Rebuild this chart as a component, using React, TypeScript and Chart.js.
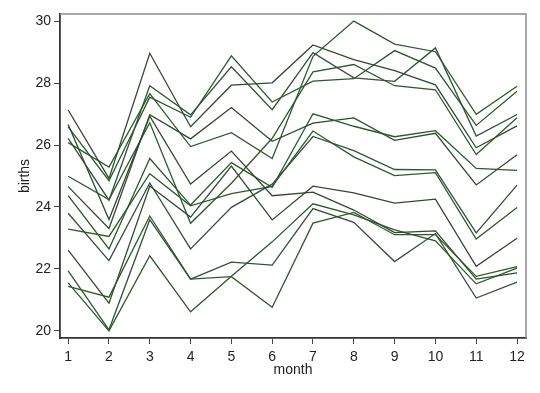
import React, { useEffect, useRef } from "react";
import { Chart, registerables } from "chart.js";

Chart.register(...registerables);

const months = [1, 2, 3, 4, 5, 6, 7, 8, 9, 10, 11, 12];
const yTicks = [20, 22, 24, 26, 28, 30];

const y1946 = [26.663, 23.598, 26.931, 24.74, 25.806, 24.364, 24.477, 23.901, 23.175, 23.227, 21.672, 21.87];
const y1947 = [21.439, 21.089, 23.709, 21.669, 21.752, 20.761, 23.479, 23.824, 23.105, 23.11, 21.759, 22.073];
const y1948 = [21.937, 20.035, 23.59, 21.672, 22.222, 22.123, 23.95, 23.504, 22.238, 23.142, 21.059, 21.573];
const y1949 = [21.548, 20.0, 22.424, 20.615, 21.761, 22.874, 24.104, 23.748, 23.262, 22.907, 21.519, 22.025];
const y1950 = [22.604, 20.894, 24.677, 23.673, 25.32, 23.583, 24.671, 24.454, 24.122, 24.252, 22.084, 22.991];
const y1951 = [23.287, 23.049, 25.076, 24.037, 24.43, 24.667, 26.451, 25.618, 25.014, 25.11, 22.964, 23.981];
const y1952 = [23.798, 22.27, 24.775, 22.646, 23.988, 24.737, 26.276, 25.816, 25.21, 25.199, 23.162, 24.707];
const y1953 = [24.364, 22.644, 25.565, 24.062, 25.431, 24.635, 27.009, 26.606, 26.268, 26.462, 25.246, 25.18];
const y1954 = [24.657, 23.304, 26.982, 26.199, 27.21, 26.122, 26.706, 26.878, 26.152, 26.379, 24.712, 25.688];
const y1955 = [24.99, 24.239, 26.721, 23.475, 24.767, 26.219, 28.361, 28.599, 27.914, 27.784, 25.693, 26.881];
const y1956 = [26.217, 24.218, 27.914, 26.975, 28.527, 27.139, 28.982, 28.169, 28.056, 29.136, 26.291, 26.987];
const y1957 = [26.589, 24.848, 27.543, 26.896, 28.878, 27.39, 28.065, 28.141, 29.048, 28.484, 26.634, 27.735];
const y1958 = [27.132, 24.924, 28.963, 26.589, 27.931, 28.009, 29.229, 28.759, 28.405, 27.945, 25.912, 26.619];
const y1959 = [26.076, 25.286, 27.66, 25.951, 26.398, 25.565, 28.865, 30.0, 29.261, 29.012, 26.992, 27.897];

const years = [y1946, y1947, y1948, y1949, y1950, y1951, y1952, y1953, y1954, y1955, y1956, y1957, y1958, y1959];

const lineColors = [
  "#2f4a2f", "#2c5a2c", "#33503a", "#2a5a2a", "#2f4a2f", "#2c5a2c", "#33503a",
  "#2a5a2a", "#2f4a2f", "#2c5a2c", "#33503a", "#2a5a2a", "#2f4a2f", "#2c5a2c",
];

const framePlugin = {
  id: "frame",
  afterDraw(chart: any) {
    const { ctx, chartArea } = chart;
    ctx.save();
    ctx.strokeStyle = "#8a8a8a";
    ctx.lineWidth = 1.5;
    ctx.beginPath();
    ctx.moveTo(chartArea.left, chartArea.top);
    ctx.lineTo(chartArea.right, chartArea.top);
    ctx.lineTo(chartArea.right, chartArea.bottom);
    ctx.stroke();
    ctx.restore();
  },
};

export default function App() {
  const ref = useRef<HTMLCanvasElement | null>(null);
  useEffect(() => {
    if (!ref.current) return;
    const font = { family: "'Liberation Sans', Arial, sans-serif", size: 14 };
    const chart = new Chart(ref.current, {
      type: "line",
      data: {
        datasets: years.map((vals, i) => ({
          data: vals.map((v, j) => ({ x: months[j], y: v })),
          borderColor: lineColors[i],
          borderWidth: 1.3,
          pointRadius: 0,
          tension: 0,
          fill: false,
        })),
      },
      options: {
        animation: false,
        responsive: true,
        maintainAspectRatio: false,
        layout: { padding: { top: 14, right: 14, left: 0, bottom: 0 } },
        plugins: { legend: { display: false }, tooltip: { enabled: false } },
        scales: {
          x: {
            type: "linear",
            min: 0.8,
            max: 12.22,
            afterBuildTicks: (s: any) => {
              s.ticks = months.map((v) => ({ value: v }));
            },
            afterFit: (s: any) => {
              s.height = 55;
            },
            grid: { display: true, drawOnChartArea: false, drawTicks: true, tickLength: 6, tickColor: "#444" },
            border: { display: true, color: "#333", width: 1.8 },
            ticks: { font, color: "#222", padding: 5, maxRotation: 0, autoSkip: false },
            title: { display: true, text: "month", font, color: "#222", padding: { top: 0, bottom: 14 } },
          },
          y: {
            type: "linear",
            min: 19.77,
            max: 30.23,
            afterBuildTicks: (s: any) => {
              s.ticks = yTicks.map((v) => ({ value: v }));
            },
            afterFit: (s: any) => {
              s.width = 60;
            },
            grid: { display: true, drawOnChartArea: false, drawTicks: true, tickLength: 6, tickColor: "#444" },
            border: { display: true, color: "#333", width: 1.8 },
            ticks: { font, color: "#222", padding: 3, autoSkip: false },
            title: { display: true, text: "births", font, color: "#222", padding: { top: 17, bottom: 0 } },
          },
        },
      },
      plugins: [framePlugin],
    } as any);
    return () => chart.destroy();
  }, []);
  return (
    <div style={{ position: "absolute", left: 0, top: 0, width: 540, height: 393, background: "#fff" }}>
      <canvas ref={ref} />
    </div>
  );
}
